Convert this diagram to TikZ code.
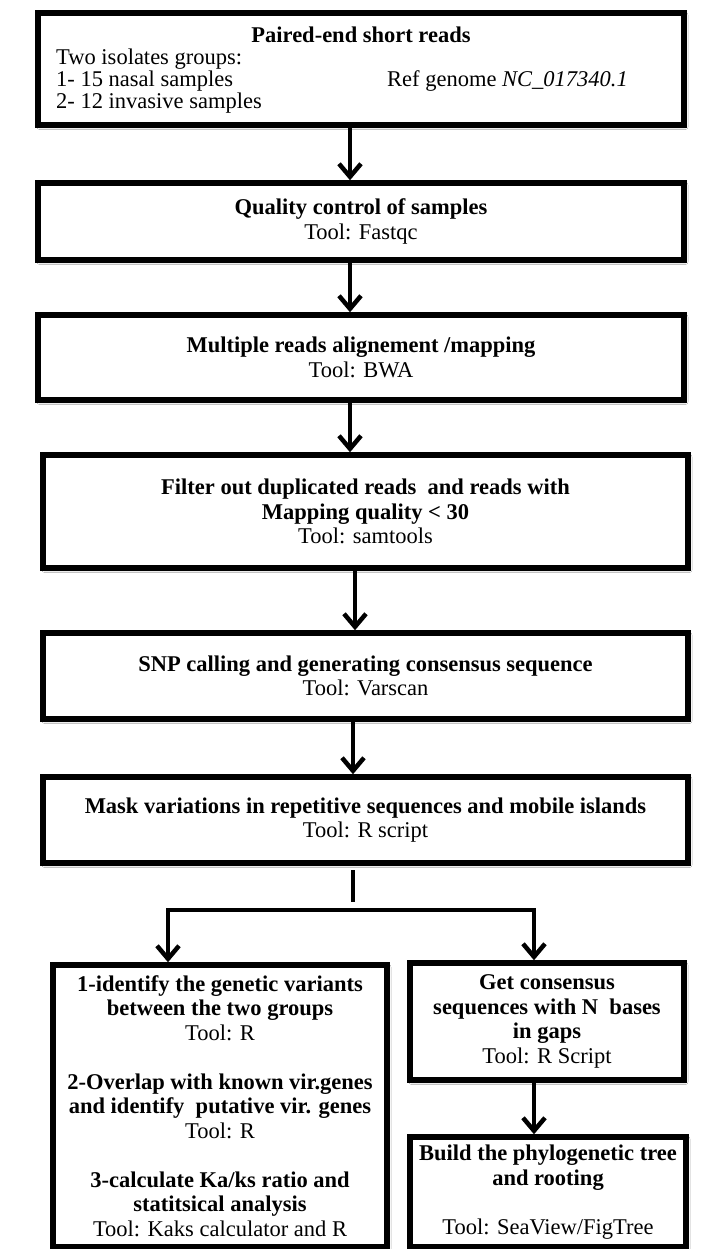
\documentclass[tikz,border=0pt]{standalone}
\usepackage{fontspec}
\setmainfont{Liberation Serif}
\usetikzlibrary{arrows.meta,shadows.blur}
\begin{document}
\begin{tikzpicture}[x=1pt,y=-1pt,
  txt/.style={font=\fontsize{22.5}{24.5}\selectfont},
  stepbox/.style={draw=black, line width=5.5pt, fill=white, align=center, inner sep=0pt, txt,
    blur shadow={shadow xshift=1.5pt, shadow yshift=-2pt, shadow blur radius=2.5pt, shadow opacity=35}},
  flow/.style={line width=4.5pt, -{Straight Barb[length=13pt,width=22pt,line width=4.5pt]}},
  link/.style={line width=4.5pt},
  label/.style={txt, inner sep=0pt, anchor=base west}
]
\useasboundingbox (0,0) rectangle (702,1249);
\fill[white] (0,0) rectangle (702,1249);

% input data box
\node[stepbox, minimum width=646pt, minimum height=112pt] (reads) at (361,69) {};
\node[txt, inner sep=0pt, anchor=base, font=\fontsize{22.5}{24.5}\selectfont\bfseries] (readstitle) at (361,43) {Paired-end short reads};
\node[label] (groups) at (56,65) {Two isolates groups:};
\node[label] (nasal) at (56,87) {1- 15 nasal samples};
\node[label] (invasive) at (56,109) {2- 12 invasive samples};
\node[label] (refgen) at (387,87) {Ref genome \textit{NC\_017340.1}};

% main pipeline
\node[stepbox, minimum width=646pt, minimum height=77pt] (qc) at (361,221.5)
  {\textbf{Quality control of samples}\\Tool: Fastqc};
\node[stepbox, minimum width=646pt, minimum height=85pt] (align) at (361,357.5)
  {\textbf{Multiple reads alignement /mapping}\\Tool: BWA};
\node[stepbox, minimum width=645pt, minimum height=113pt] (filt) at (365.5,511.5)
  {\textbf{Filter out duplicated reads\ \ and reads with}\\\textbf{Mapping quality < 30}\\Tool: samtools};
\node[stepbox, minimum width=645pt, minimum height=86pt] (snp) at (365.5,676)
  {\textbf{SNP calling and generating consensus sequence}\\Tool: Varscan};
\node[stepbox, minimum width=645pt, minimum height=86pt] (mask) at (365.5,820)
  {\textbf{Mask variations in repetitive sequences and mobile islands}\\Tool: R script};

% two branches
\node[stepbox, minimum width=334pt, minimum height=282pt] (variants) at (220,1106)
  {\textbf{1-identify the genetic variants}\\\textbf{between the two groups}\\Tool: R\\[24.5pt]
   \textbf{2-Overlap with known vir.genes}\\\textbf{and identify\ \ putative vir. genes}\\Tool: R\\[24.5pt]
   \textbf{3-calculate Ka/ks ratio and}\\\textbf{statitsical analysis}\\Tool: Kaks calculator and R};
\node[stepbox, minimum width=274pt, minimum height=117pt] (consensus) at (547,1021.5)
  {\textbf{Get consensus}\\\textbf{sequences with N\ \ bases}\\\textbf{in gaps}\\Tool: R Script};
\node[stepbox, minimum width=276pt, minimum height=110pt] (tree) at (548,1192)
  {\textbf{Build the phylogenetic tree}\\\textbf{and rooting}\\[24.5pt]Tool: SeaView/FigTree};

% connectors
\draw[flow] (reads.south -| 350,0) -- (qc.north -| 350,0);
\draw[flow] (qc.south -| 350,0) -- (align.north -| 350,0);
\draw[flow] (align.south -| 350,0) -- (filt.north -| 350,0);
\draw[flow] (filt.south -| 355,0) -- (snp.north -| 355,0);
\draw[flow] (snp.south -| 353,0) -- (mask.north -| 353,0);

\coordinate (stubtop) at (353,870);
\coordinate (stubend) at (353,902);
\coordinate (forkmid) at (353,910);
\draw[link] (stubtop) -- (stubend);
\draw[flow] (forkmid) -| (variants.north -| 168,0);
\draw[flow] (forkmid) -| (consensus.north -| 534,0);
\draw[flow] (consensus.south -| 534,0) -- (tree.north -| 534,0);
\end{tikzpicture}
\end{document}
